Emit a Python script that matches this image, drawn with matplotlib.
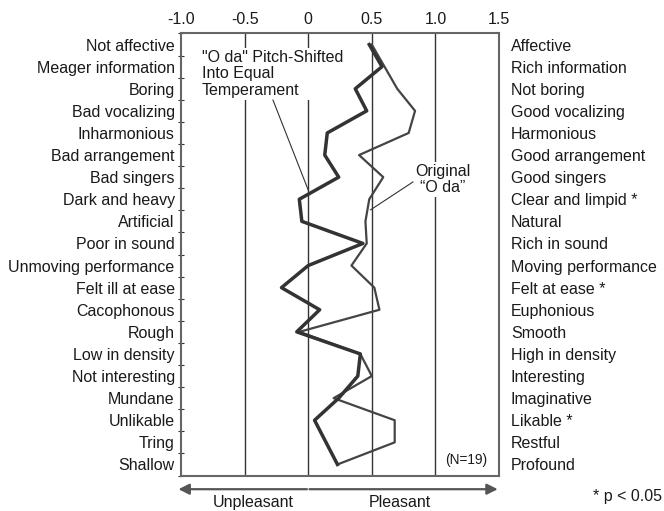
import numpy as np
import matplotlib
matplotlib.use('Agg')
import matplotlib.pyplot as plt

plt.rcParams['font.family'] = ['Liberation Sans', 'DejaVu Sans']

# semantic differential pairs (negative pole on the left, positive on the right)
left_labels = ['Not affective', 'Meager information', 'Boring', 'Bad vocalizing',
               'Inharmonious', 'Bad arrangement', 'Bad singers', 'Dark and heavy',
               'Artificial', 'Poor in sound', 'Unmoving performance', 'Felt ill at ease',
               'Cacophonous', 'Rough', 'Low in density', 'Not interesting',
               'Mundane', 'Unlikable', 'Tring', 'Shallow']
right_labels = ['Affective', 'Rich information', 'Not boring', 'Good vocalizing',
                'Harmonious', 'Good arrangement', 'Good singers', 'Clear and limpid *',
                'Natural', 'Rich in sound', 'Moving performance', 'Felt at ease *',
                'Euphonious', 'Smooth', 'High in density', 'Interesting',
                'Imaginative', 'Likable *', 'Restful', 'Profound']

# mean scores
original = [0.50, 0.60, 0.70, 0.84, 0.79, 0.40, 0.59, 0.48, 0.45, 0.46,
            0.34, 0.52, 0.56, -0.07, 0.41, 0.50, 0.20, 0.68, 0.68, 0.23]
pitch_shifted = [0.48, 0.58, 0.37, 0.46, 0.15, 0.13, 0.24, -0.07, -0.05, 0.43,
                 0.00, -0.21, 0.09, -0.09, 0.41, 0.39, 0.24, 0.05, 0.14, 0.23]

xticks = [-1.0, -0.5, 0, 0.5, 1.0, 1.5]
xtick_labels = ['-1.0', '-0.5', '0', '0.5', '1.0', '1.5']

fs = 11.5
txt = '#1a1a1a'

fig = plt.figure(figsize=(6.64, 5.11), dpi=100)
ax = fig.add_axes([181 / 664, 1 - 475.5 / 511, 318 / 664, 442 / 511])

n = len(left_labels)
centers = np.arange(n) + 0.5

ax.set_xlim(-1.0, 1.5)
ax.set_ylim(n, 0)

# vertical reference lines
for xv in [-0.5, 0, 0.5, 1.0]:
    ax.axvline(xv, color='#333333', lw=1.0, zorder=1)

ax.plot(original, centers, color='#444444', lw=1.6, zorder=4)
ax.plot(pitch_shifted, centers, color='#333333', lw=2.5, zorder=5)

# axes styling
for s in ax.spines.values():
    s.set_color('#666666')
    s.set_linewidth(1.5)
ax.xaxis.tick_top()
ax.set_xticks(xticks, xtick_labels)
ax.tick_params(axis='x', length=0, pad=4.5, labelsize=fs, labelcolor=txt)
ax.set_yticks(centers, left_labels)
ax.set_yticks(np.arange(n + 1), minor=True)
ax.tick_params(axis='y', which='major', length=0, pad=4.5, labelsize=fs, labelcolor=txt)
ax.tick_params(axis='y', which='minor', direction='inout', length=5, width=0.8, color='#333333')

ax2 = ax.twinx()
ax2.set_ylim(n, 0)
ax2.set_yticks(centers, right_labels)
ax2.tick_params(axis='y', length=0, pad=8.5, labelsize=fs, labelcolor=txt)
for s in ax2.spines.values():
    s.set_visible(False)

# line labels with leader lines
ax.text(-0.835, 1.83, '"O da" Pitch-Shifted\nInto Equal\nTemperament', ha='left', va='center',
        fontsize=fs, color=txt, linespacing=1.12, zorder=3,
        bbox=dict(facecolor='white', edgecolor='none', pad=1.5))
ax.plot([-0.277, 0.0], [3.01, 7.08], color='#333333', lw=0.8, zorder=3)

ax.text(1.058, 6.6, 'Original\n\u201cO da\u201d', ha='center', va='center',
        fontsize=fs, color=txt, linespacing=1.05, zorder=3,
        bbox=dict(facecolor='white', edgecolor='none', pad=1.5))
ax.plot([0.823, 0.49], [6.72, 7.98], color='#333333', lw=0.8, zorder=3)

ax.text(1.24, 19.3, '(N=19)', ha='center', va='center', fontsize=9.8, color=txt)

# Unpleasant / Pleasant arrows below the axes
trans = ax.get_xaxis_transform()
arrow_kw = dict(arrowstyle='-|>', color='#555555', lw=1.6, mutation_scale=16,
                shrinkA=0, shrinkB=0)
ax.annotate('', xy=(-1.02, -0.031), xytext=(-0.01, -0.031), xycoords=trans,
            textcoords=trans, arrowprops=arrow_kw, annotation_clip=False)
ax.annotate('', xy=(1.49, -0.031), xytext=(0.01, -0.031), xycoords=trans,
            textcoords=trans, arrowprops=arrow_kw, annotation_clip=False)
ax.text(-0.435, -0.062, 'Unpleasant', transform=trans, ha='center', va='center',
        fontsize=fs, color=txt)
ax.text(0.72, -0.062, 'Pleasant', transform=trans, ha='center', va='center',
        fontsize=fs, color=txt)

fig.text(662 / 664, 1 - 496 / 511, '* p < 0.05', ha='right', va='center', fontsize=fs, color=txt)

fig.savefig('out.png', dpi=100, facecolor='white')
